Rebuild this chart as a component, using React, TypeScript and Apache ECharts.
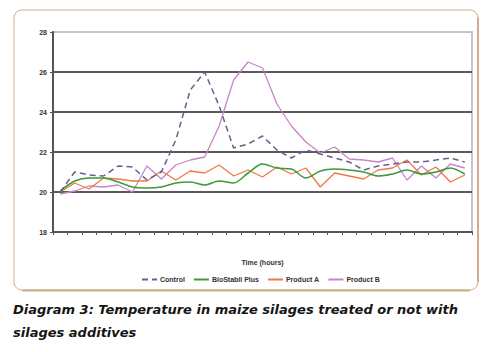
import React, { useEffect, useRef } from "react";
import * as echarts from "echarts";

const categories = [
  "1", "2", "3", "4", "5", "6", "7", "8", "9", "10",
  "11", "12", "13", "14", "15", "16", "17", "18", "19", "20",
  "21", "22", "23", "24", "25", "26", "27", "28", "29",
];

const control = [
  20.0, 21.0, 20.85, 20.8, 21.3, 21.25, 20.6, 21.0, 22.6, 25.1,
  26.0, 24.3, 22.2, 22.4, 22.8, 22.1, 21.7, 22.1, 21.9, 21.7,
  21.5, 21.1, 21.3, 21.4, 21.5, 21.5, 21.6, 21.7, 21.5,
];

const bioStabilPlus = [
  20.05, 20.55, 20.7, 20.7, 20.5, 20.25, 20.2, 20.25, 20.45, 20.5,
  20.35, 20.55, 20.45, 20.95, 21.4, 21.2, 21.15, 20.7, 21.05, 21.15,
  21.1, 21.0, 20.8, 20.9, 21.1, 20.9, 21.0, 21.2, 20.9,
];

const productA = [
  20.0, 20.45, 20.15, 20.7, 20.65, 20.55, 20.55, 21.05, 20.6, 21.05,
  20.95, 21.35, 20.8, 21.1, 20.75, 21.25, 20.9, 21.2, 20.25, 20.95,
  20.8, 20.65, 21.1, 21.2, 21.6, 20.85, 21.25, 20.5, 20.85,
];

const productB = [
  19.9, 20.05, 20.3, 20.25, 20.35, 20.0, 21.3, 20.65, 21.35, 21.6,
  21.75, 23.3, 25.6, 26.5, 26.2, 24.4, 23.3, 22.5, 21.95, 22.25,
  21.65, 21.6, 21.5, 21.7, 20.6, 21.3, 20.7, 21.4, 21.2,
];

const seriesNames = ["Control", "BioStabil Plus", "Product A", "Product B"];
const xAxisTitle = "Time (hours)";
const captionLine1 = "Diagram 3: Temperature in maize silages treated or not with";
const captionLine2 = "silages additives";

export default function App() {
  const ref = useRef<HTMLDivElement>(null);

  useEffect(() => {
    if (!ref.current) return;
    const chart = echarts.init(ref.current, undefined, { renderer: "svg" });
    const axisFont = "Liberation Sans";
    chart.setOption({
      animation: false,
      backgroundColor: "#ffffff",
      grid: {
        left: 53,
        right: 16,
        top: 32,
        bottom: 120,
        show: true,
        borderColor: "#c4c4c4",
        borderWidth: 2,
        backgroundColor: "transparent",
      },
      legend: {
        data: seriesNames,
        left: 136,
        top: 271,
        itemWidth: 15,
        itemHeight: 8,
        itemGap: 8,
        itemStyle: { opacity: 0 },
        textStyle: {
          fontSize: 7,
          fontWeight: "bold",
          color: "#333",
          fontFamily: axisFont,
          padding: [0, 0, 0, -2],
        },
      },
      xAxis: {
        type: "category",
        data: categories,
        boundaryGap: true,
        name: xAxisTitle,
        nameLocation: "middle",
        nameGap: 27,
        nameTextStyle: {
          fontSize: 7,
          fontWeight: "bold",
          color: "#333",
          fontFamily: axisFont,
        },
        axisLine: { lineStyle: { color: "#555", width: 2 } },
        axisTick: { show: true, interval: 0, length: 3, lineStyle: { color: "#555" } },
        axisLabel: { show: false },
        splitLine: { show: false },
      },
      yAxis: {
        type: "value",
        min: 18,
        max: 28,
        interval: 2,
        axisLine: { show: true, lineStyle: { color: "#555", width: 2 } },
        axisTick: { show: true, length: 3, lineStyle: { color: "#555" } },
        axisLabel: {
          fontSize: 7,
          fontWeight: "bold",
          color: "#333",
          fontFamily: axisFont,
          margin: 6,
        },
        splitLine: {
          show: true,
          showMaxLine: false,
          lineStyle: { color: "#5a5a5a", width: 2 },
        },
      },
      series: [
        {
          name: seriesNames[0],
          type: "line",
          data: control,
          symbol: "none",
          z: 5,
          lineStyle: { color: "#6b5e8e", width: 1.5, type: [6, 4] },
          itemStyle: { color: "#6b5e8e" },
        },
        {
          name: seriesNames[1],
          type: "line",
          data: bioStabilPlus,
          symbol: "none",
          smooth: 0.3,
          z: 4,
          lineStyle: { color: "#3a9a3a", width: 1.5 },
          itemStyle: { color: "#3a9a3a" },
        },
        {
          name: seriesNames[2],
          type: "line",
          data: productA,
          symbol: "none",
          z: 3,
          lineStyle: { color: "#ef7a45", width: 1.3 },
          itemStyle: { color: "#ef7a45" },
        },
        {
          name: seriesNames[3],
          type: "line",
          data: productB,
          symbol: "none",
          z: 2,
          lineStyle: { color: "#c785c8", width: 1.3 },
          itemStyle: { color: "#c785c8" },
        },
      ],
      graphic: [
        {
          type: "rect",
          silent: true,
          z: -1,
          shape: { x: 14, y: 10, width: 464, height: 280, r: 8 },
          style: { fill: "none", stroke: "#cbb08a", lineWidth: 1 },
        },
        {
          type: "line",
          silent: true,
          shape: { x1: 478, y1: 18, x2: 478, y2: 282 },
          style: { stroke: "#c47d58", lineWidth: 1 },
        },
        {
          type: "line",
          silent: true,
          shape: { x1: 22, y1: 290.5, x2: 470, y2: 290.5 },
          style: { stroke: "#c9b08c", lineWidth: 2 },
        },
        {
          type: "text",
          left: 13,
          top: 303,
          style: {
            text: captionLine1,
            fontSize: 13,
            fontWeight: "bold",
            fontStyle: "italic",
            fontFamily: "DejaVu Sans",
            fill: "#151515",
          },
        },
        {
          type: "text",
          left: 13,
          top: 326,
          style: {
            text: captionLine2,
            fontSize: 13,
            fontWeight: "bold",
            fontStyle: "italic",
            fontFamily: "DejaVu Sans",
            fill: "#151515",
          },
        },
      ],
    });
    return () => chart.dispose();
  }, []);

  return (
    <div
      ref={ref}
      style={{ position: "fixed", left: 0, top: 0, width: 488, height: 352 }}
    />
  );
}
